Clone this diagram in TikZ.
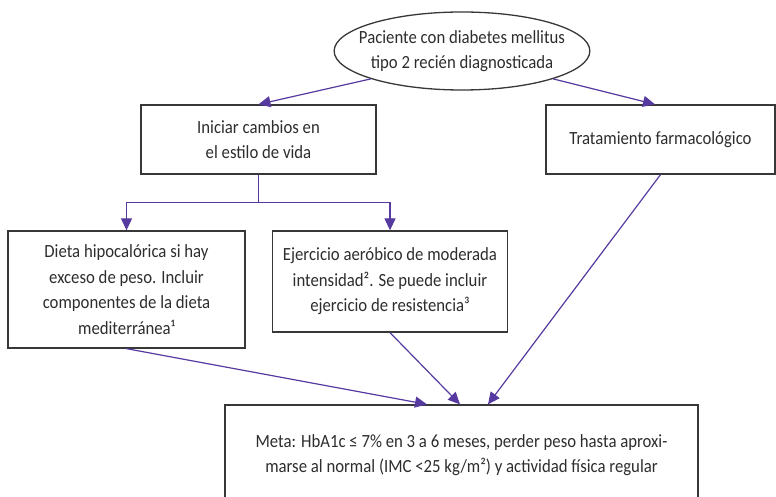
\documentclass[tikz,border=0pt]{standalone}
\usepackage{fontspec}
\setmainfont{Carlito}[FakeStretch=0.9]
\usetikzlibrary{arrows.meta,shapes.geometric}
\definecolor{flowpurple}{RGB}{86,58,160}
\definecolor{boxgray}{RGB}{55,55,55}
\definecolor{textgray}{RGB}{45,45,45}

\begin{document}
\begin{tikzpicture}[x=0.5pt,y=-0.5pt,
  every node/.style={text=textgray,font=\fontsize{9.3}{12.75}\selectfont,align=center,inner sep=0pt},
  stepbox/.style={draw=boxgray,line width=0.65pt,rectangle},
  flow/.style={draw=flowpurple,line width=0.6pt,-{Triangle[length=6pt,width=5.5pt]}}]
\useasboundingbox (0,0) rectangle (776,497);
% nodes
\node[draw=boxgray,line width=0.65pt,ellipse,inner xsep=-6.3pt,minimum height=39pt] (pac) at (462,51) {Paciente con diabetes mellitus\\tipo 2 recién diagnosticada};
\node[stepbox,minimum width=117.5pt,minimum height=34.5pt] (ini) at (258.5,139.5) {Iniciar cambios en\\el estilo de vida};
\node[stepbox,minimum width=114.5pt,minimum height=34.5pt] (tra) at (660.5,139.5) {Tratamiento farmacológico};
\node[stepbox,minimum width=118.5pt,minimum height=58.5pt] (die) at (126.5,289.5) {Dieta hipocalórica si hay\\exceso de peso. Incluir\\componentes de la dieta\\mediterránea¹};
\node[stepbox,minimum width=117.75pt,minimum height=50.5pt] (eje) at (390,281.5) {Ejercicio aeróbico de moderada\\intensidad². Se puede incluir\\ejercicio de resistencia³};
\node[stepbox,minimum width=236.5pt,minimum height=50pt] (met) at (461.5,455) {Meta: HbA1c ≤ 7\% en 3 a 6 meses, perder peso hasta aproxi-\\marse al normal (IMC <25 kg/m²) y actividad física regular};
% connectors
\draw[flow] (pac.197) -- (ini.north);
\draw[flow] (pac.-17) -- ([xshift=-2.75pt]tra.north);
\draw[flow] (ini.south) -- ++(0,28) -| (die.north);
\draw[flow] (ini.south) -- ++(0,28) -| (eje.north);
\draw[flow] (die.south) -- ([xshift=-17.25pt]met.north);
\draw[flow] (eje.south) -- ([xshift=-0.75pt]met.north);
\draw[flow] (tra.south) -- ([xshift=13.25pt]met.north);
\end{tikzpicture}
\end{document}
